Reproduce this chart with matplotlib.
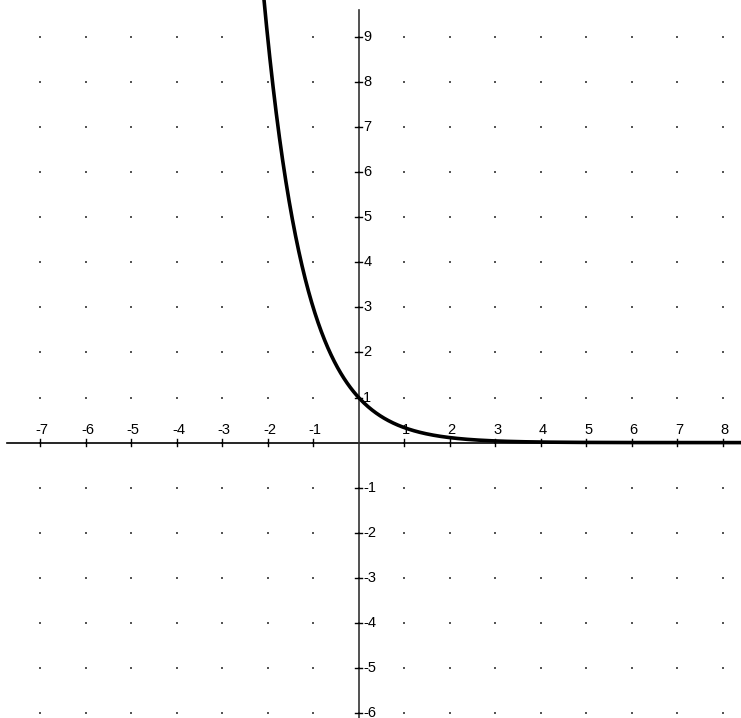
import numpy as np
import matplotlib.pyplot as plt

# curve y = (1/3)^x
base = 1 / 3
x_ticks = [-7, -6, -5, -4, -3, -2, -1, 1, 2, 3, 4, 5, 6, 7, 8]
y_ticks = [-6, -5, -4, -3, -2, -1, 1, 2, 3, 4, 5, 6, 7, 8, 9]
grid_x = list(range(-7, 9))
grid_y = list(range(-6, 10))

x_min, x_max = -7.88, 8.40
y_min, y_max = -6.11, 9.82

fig = plt.figure(figsize=(7.41, 7.18), dpi=100)
ax = fig.add_axes([0, 0, 1, 1])
ax.set_xlim(x_min, x_max)
ax.set_ylim(y_min, y_max)
ax.axis("off")

# dotted grid
gx, gy = np.meshgrid(grid_x, grid_y)
ax.scatter(gx.ravel(), gy.ravel(), s=1.2, color="#555555", marker="s", linewidths=0)

# axes lines
ax.plot([-7.73, x_max], [0, 0], color="black", lw=1.2)
ax.plot([0, 0], [y_min, 9.6], color="#333333", lw=1.2)

# tick marks and labels
tx = 3.5 / 45.5
ty = 3.5 / 45.0
for t in x_ticks:
    ax.plot([t, t], [-ty, ty], color="black", lw=1)
    ax.text(t + 0.04, 0.12, str(t), ha="center", va="bottom",
            fontsize=10.5, family="Liberation Sans")
for t in y_ticks:
    ax.plot([-tx, tx], [t, t], color="black", lw=1)
    ax.text(0.1, t, str(t), ha="left", va="center", fontsize=10.5,
            family="Liberation Sans")

# curve
xs = np.linspace(-2.2, 8.4, 600)
ys = base ** xs
ax.plot(xs, ys, color="black", lw=2.6, solid_capstyle="butt")

fig.savefig("out.png", dpi=100, facecolor="white")
